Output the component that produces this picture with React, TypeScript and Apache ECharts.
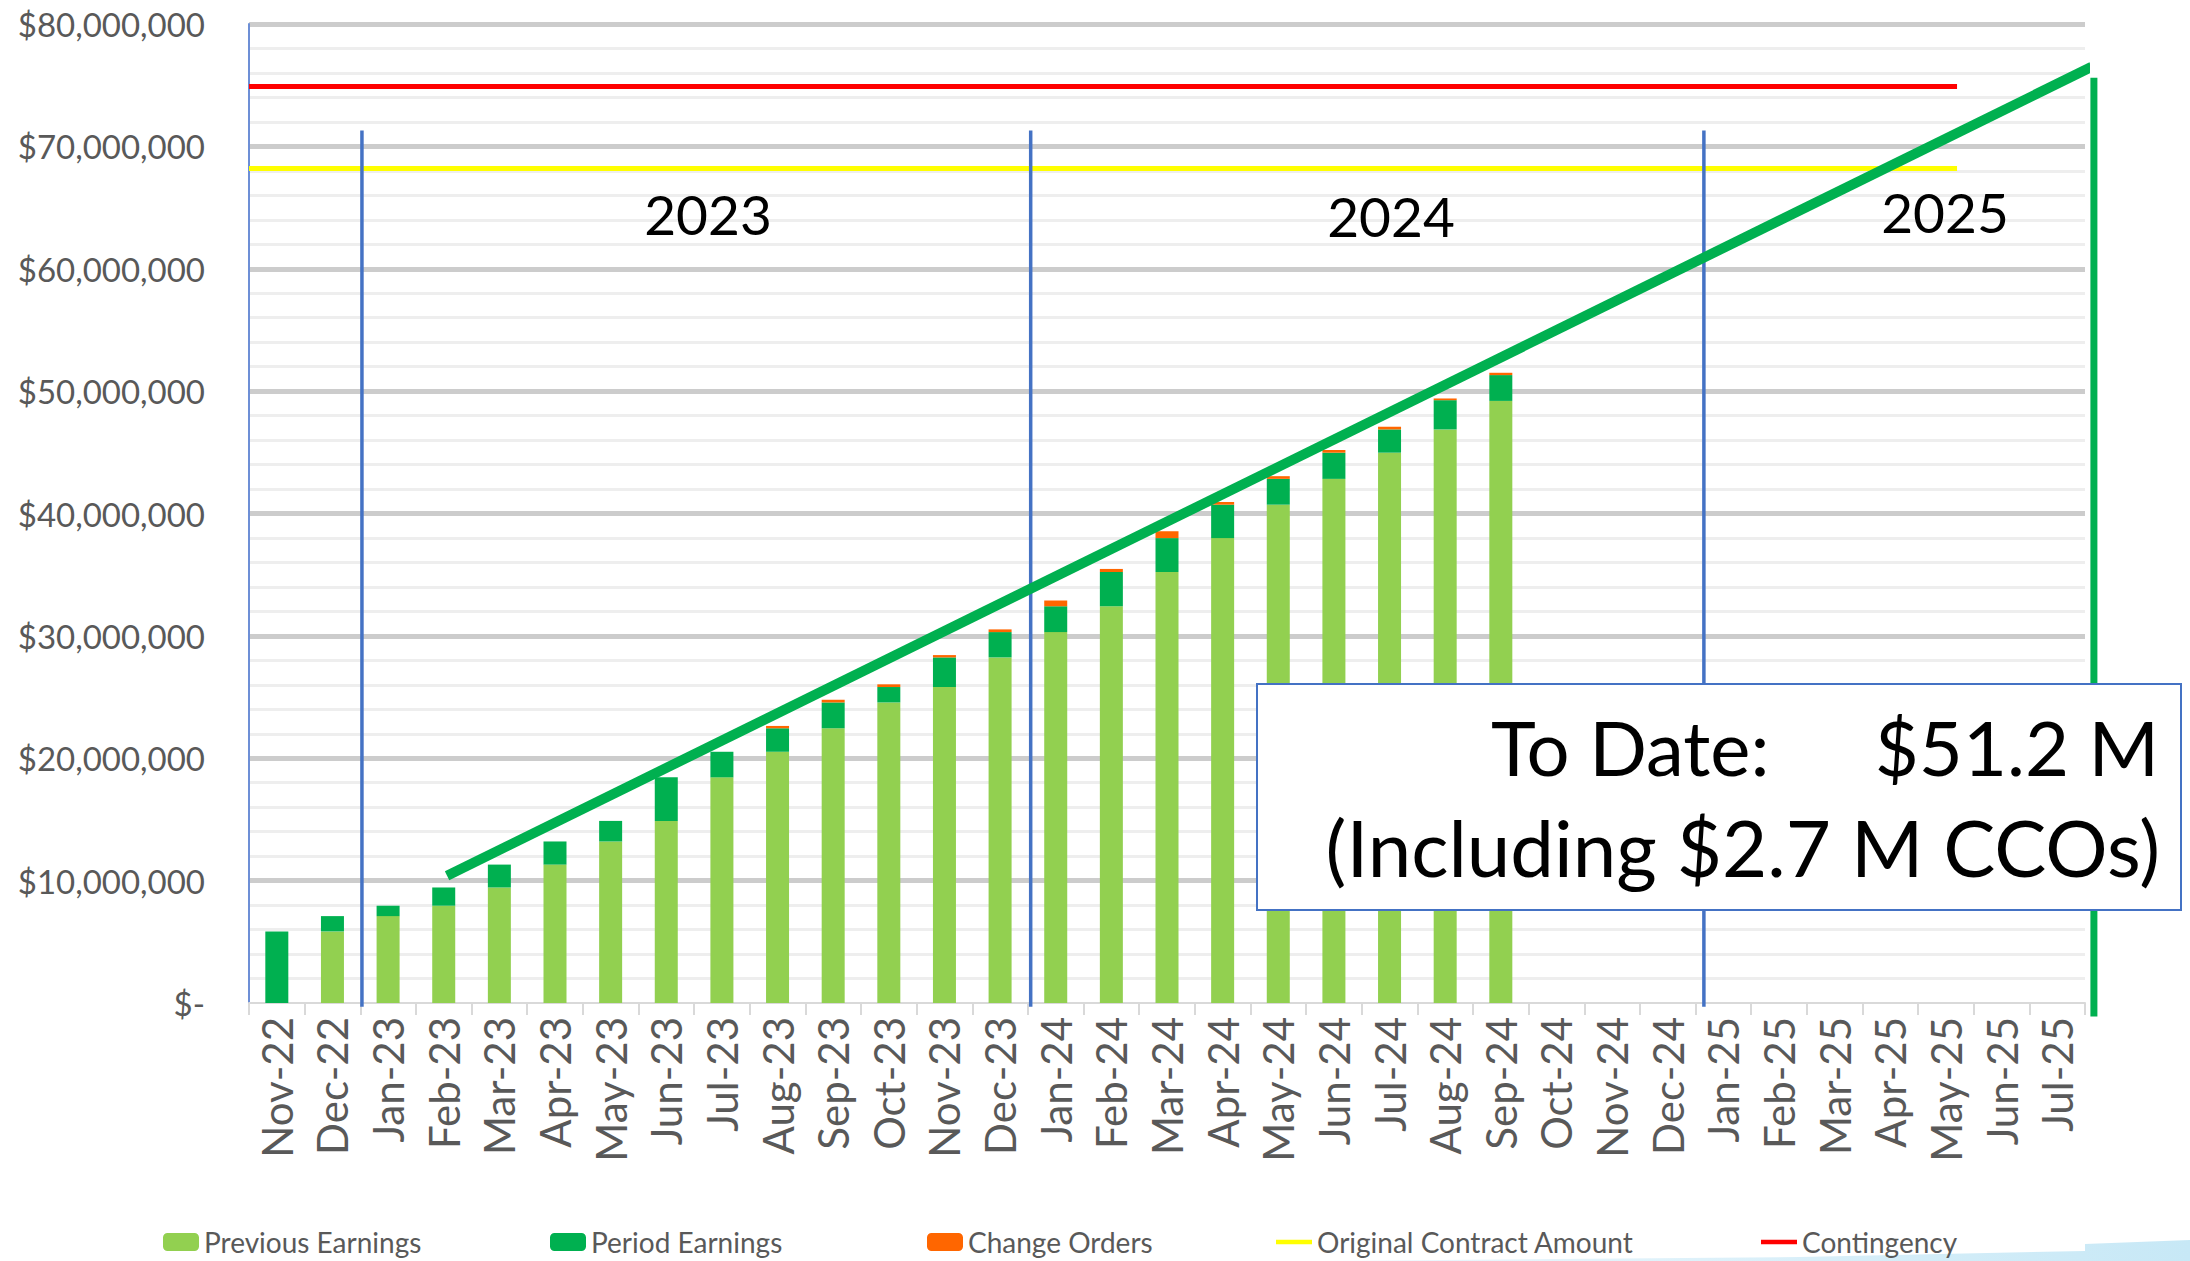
import React, { useEffect, useRef } from "react";
import * as echarts from "echarts";

const categories = [
  "Nov-22", "Dec-22",
  "Jan-23", "Feb-23", "Mar-23", "Apr-23", "May-23", "Jun-23", "Jul-23", "Aug-23", "Sep-23", "Oct-23", "Nov-23", "Dec-23",
  "Jan-24", "Feb-24", "Mar-24", "Apr-24", "May-24", "Jun-24", "Jul-24", "Aug-24", "Sep-24", "Oct-24", "Nov-24", "Dec-24",
  "Jan-25", "Feb-25", "Mar-25", "Apr-25", "May-25", "Jun-25", "Jul-25",
];

// values in millions of dollars
const previousEarnings = [0, 5.85, 7.1, 7.95, 9.44, 11.31, 13.2, 14.88, 18.44, 20.53, 22.45, 24.56, 25.82, 28.24, 30.31, 32.42, 35.22, 37.99, 40.72, 42.83, 44.97, 46.87, 49.2];
const periodEarnings = [5.85, 1.25, 0.85, 1.49, 1.87, 1.89, 1.68, 3.56, 2.09, 1.92, 2.11, 1.26, 2.42, 2.07, 2.11, 2.8, 2.77, 2.73, 2.11, 2.14, 1.9, 2.39, 2.11];
const changeOrders = [0, 0, 0, 0, 0, 0, 0, 0, 0, 0.19, 0.22, 0.22, 0.19, 0.22, 0.47, 0.25, 0.56, 0.22, 0.22, 0.22, 0.22, 0.14, 0.19];

const originalContractAmount = 68.2; // M
const contingency = 74.9; // M
const refLineEnd = 30.7; // category-position units

// year dividers near category boundaries, height in M
const yearDividers = [2.03, 14.05, 26.15];
const dividerTop = 71.3;
const dividerBottom = -0.3;

// trend line points [categoryPosition, M]
const trendLine = [[3.56, 10.4], [33.12, 76.5]];
const endLine = [[33.16, -1.1], [33.16, 75.6]];

const yearLabels = ["2023", "2024", "2025"];
const yTicks = { min: 0, max: 80, interval: 10 };

const FONT = "Lato, 'Open Sans', sans-serif";
const M = 1e6;
const LINE_ICON = "path://M0,0H40V5H0Z";

function toM(arr: number[]) {
  return categories.map((_, i) => (i < arr.length ? arr[i] * M : null));
}

export default function App() {
  const ref = useRef<HTMLDivElement>(null);
  useEffect(() => {
    if (!ref.current) return;
    const chart = echarts.init(ref.current, null, { renderer: "svg" });

    const helperLine = (name: string, data: number[][], color: string, width: number, z = 3) => ({
      name,
      type: "line",
      xAxisIndex: 1,
      yAxisIndex: 0,
      data,
      symbol: "none",
      clip: false,
      silent: true,
      z,
      itemStyle: { color },
      lineStyle: { color, width, cap: "butt" },
    });

    const legendBase = {
      top: 1223,
      itemWidth: 36,
      itemHeight: 18,
      itemGap: 10,
      textStyle: { fontSize: 28, color: "#595959", fontFamily: FONT },
      selectedMode: false,
    };

    const option: any = {
      animation: false,
      backgroundColor: "#ffffff",
      grid: { left: 249, right: 105, top: 24, bottom: 258, containLabel: false },
      legend: [
        { ...legendBase, left: 158, data: ["Previous Earnings"] },
        { ...legendBase, left: 545, data: ["Period Earnings"] },
        { ...legendBase, left: 922, data: ["Change Orders"] },
        { ...legendBase, left: 1271, data: [{ name: "Original Contract Amount", icon: LINE_ICON }] },
        { ...legendBase, left: 1756, data: [{ name: "Contingency", icon: LINE_ICON }] },
      ],
      xAxis: [
        {
          type: "category",
          data: categories,
          boundaryGap: true,
          axisLine: { show: true, lineStyle: { color: "#d9d9d9", width: 2 } },
          axisTick: { show: true, length: 12, lineStyle: { color: "#d9d9d9", width: 2 } },
          axisLabel: {
            rotate: 90,
            interval: 0,
            margin: 14,
            fontSize: 42,
            color: "#595959",
            fontFamily: FONT,
          },
          splitLine: { show: false },
        },
        {
          type: "value",
          min: 0,
          max: 33,
          show: false,
          position: "bottom",
        },
      ],
      yAxis: {
        type: "value",
        min: yTicks.min * M,
        max: yTicks.max * M,
        interval: yTicks.interval * M,
        axisLine: { show: true, lineStyle: { color: "#6d8fd6", width: 2 } },
        axisTick: { show: false },
        axisLabel: {
          margin: 44,
          fontSize: 33,
          color: "#595959",
          fontFamily: FONT,
          formatter: (v: number) => (v === 0 ? "$-" : "$" + v.toLocaleString("en-US")),
        },
        splitLine: { show: true, showMinLine: false, lineStyle: { color: "#cccccc", width: 5 } },
        minorTick: { show: false, splitNumber: 5 },
        minorSplitLine: { show: true, lineStyle: { color: "#eeeeee", width: 3 } },
      },
      series: [
        {
          name: "Previous Earnings",
          type: "bar",
          stack: "earn",
          barWidth: 23,
          data: toM(previousEarnings),
          itemStyle: { color: "#92D050" },
          z: 2,
        },
        {
          name: "Period Earnings",
          type: "bar",
          stack: "earn",
          barWidth: 23,
          data: toM(periodEarnings),
          itemStyle: { color: "#00B050" },
          z: 2,
        },
        {
          name: "Change Orders",
          type: "bar",
          stack: "earn",
          barWidth: 23,
          data: toM(changeOrders),
          itemStyle: { color: "#FF6600" },
          z: 2,
        },
        helperLine("Original Contract Amount", [[0, originalContractAmount * M], [refLineEnd, originalContractAmount * M]], "#FFFF00", 5),
        helperLine("Contingency", [[0, contingency * M], [refLineEnd, contingency * M]], "#FF0000", 5),
        ...yearDividers.map((x, i) =>
          helperLine("divider" + i, [[x, dividerBottom * M], [x, dividerTop * M]], "#4472C4", 3.5, 4)
        ),
        helperLine("trend", trendLine.map((p) => [p[0], p[1] * M]), "#00B050", 10, 6),
      ],
      graphic: [
        {
          type: "polygon",
          silent: true,
          z: 0,
          shape: {
            points: [[1327, 1261], [1800, 1257], [2085, 1251], [2085, 1244], [2190, 1240], [2190, 1261]],
          },
          style: {
            fill: new echarts.graphic.LinearGradient(0, 0, 1, 0, [
              { offset: 0, color: "#eef8fd" },
              { offset: 1, color: "#c7e8f6" },
            ]),
          },
        },
        ...yearLabels.map((t, i) => ({
          type: "text",
          x: [708, 1391, 1945][i],
          y: [214, 216, 212][i],
          z: 50,
          silent: true,
          style: {
            text: t,
            fontSize: 55,
            fontFamily: FONT,
            fill: "#000000",
            align: "center",
            verticalAlign: "middle",
          },
        })),
        {
          type: "rect",
          z: 100,
          silent: true,
          shape: { x: 1257, y: 684, width: 924, height: 226 },
          style: { fill: "#ffffff", stroke: "#4472C4", lineWidth: 2 },
        },
        {
          type: "text",
          z: 101,
          silent: true,
          x: 1491,
          y: 746,
          style: { text: "To Date:", fontSize: 76, fontFamily: FONT, fill: "#000", align: "left", verticalAlign: "middle" },
        },
        {
          type: "text",
          z: 101,
          silent: true,
          x: 2159,
          y: 746,
          style: { text: "$51.2 M", fontSize: 76, fontFamily: FONT, fill: "#000", align: "right", verticalAlign: "middle" },
        },
        {
          type: "text",
          z: 101,
          silent: true,
          x: 2160,
          y: 847,
          style: {
            text: "(Including $2.7 M CCOs)",
            fontSize: 78,
            fontFamily: FONT,
            fill: "#000",
            align: "right",
            verticalAlign: "middle",
          },
        },
      ],
    };

    chart.setOption(option);

    // vertical end line, placed through the axes' own scales
    const p0 = chart.convertToPixel({ xAxisIndex: 1, yAxisIndex: 0 }, [endLine[0][0], endLine[0][1] * M]) as number[];
    const p1 = chart.convertToPixel({ xAxisIndex: 1, yAxisIndex: 0 }, [endLine[1][0], endLine[1][1] * M]) as number[];
    if (p0 && p1) {
      chart.setOption({
        graphic: [
          {
            id: "endLine",
            type: "line",
            z: 60,
            silent: true,
            shape: { x1: p0[0], y1: p0[1], x2: p1[0], y2: p1[1] },
            style: { stroke: "#00B050", lineWidth: 7 },
          },
        ],
      });
    }

    return () => chart.dispose();
  }, []);

  return (
    <div
      ref={ref}
      style={{ position: "fixed", left: 0, top: 0, width: 2190, height: 1261, background: "#fff" }}
    />
  );
}
